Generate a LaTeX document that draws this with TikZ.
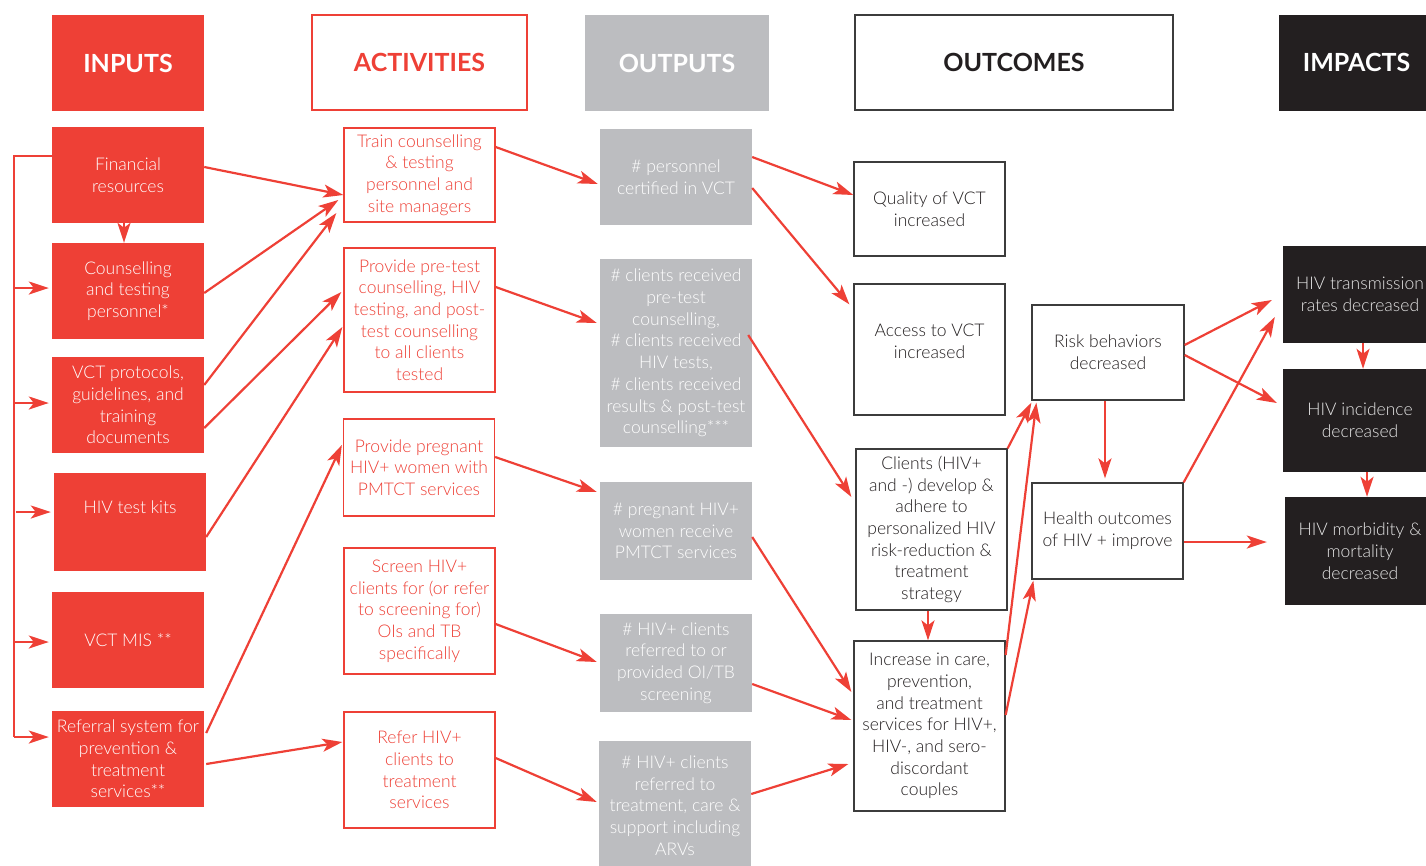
\documentclass[tikz,border=0pt]{standalone}
\usepackage{fontspec}
\IfFontExistsTF{Lato Light}{\setmainfont{Lato Light}}{\setmainfont{Lato}}
\newfontfamily\headfont{Lato}
\usetikzlibrary{arrows.meta}
\definecolor{lfred}{HTML}{EE4036}
\definecolor{lfgrey}{HTML}{BCBDC0}
\definecolor{lfblack}{HTML}{231F20}
\definecolor{lfdark}{HTML}{3C3C3C}
\begin{document}
\begin{tikzpicture}[x = 1pt, y = -1pt,
	every node/.style = {align = center, inner sep = 0pt, font = \fontsize{17.5}{21.7}\selectfont},
	head/.style = {font = \fontsize{25}{30}\selectfont\headfont\bfseries, minimum height = 96},
	inbox/.style = {fill = lfred, text = white, minimum width = 152, minimum height = 96},
	actbox/.style = {draw = lfred, line width = 1.3, fill = white, text = lfred, minimum width = 151},
	outbox/.style = {fill = lfgrey, text = white, minimum width = 152},
	ocbox/.style = {draw = lfdark, line width = 1.3, fill = white, text = lfblack, minimum width = 151},
	impbox/.style = {fill = lfblack, text = white!90!black, minimum width = 154},
	link/.style = {draw = lfred, line width = 2.2},
	arrow/.style = {link, -{Stealth[length = 20pt, width = 13pt, inset = 5pt]}}]
	\useasboundingbox (0,0) rectangle (1426,865);
	% headers
	\node[head, fill = lfred, text = white, minimum width = 152, text depth = -4pt] (hin) at (128,63) {INPUTS};
	\node[head, draw = lfred, line width = 1.3, text = lfred, minimum width = 215, minimum height = 95, text depth = -4pt] (hact) at (419.5,62.5) {ACTIVITIES};
	\node[head, fill = lfgrey, text = white, minimum width = 184, text depth = -4pt] (hout) at (677,63) {OUTPUTS};
	\node[head, draw = lfdark, line width = 1.3, text = lfblack, minimum width = 318, minimum height = 95, text depth = -4pt] (hoc) at (1014,62.5) {OUTCOMES};
	\node[head, fill = lfblack, text = white, minimum width = 155, text depth = 2pt] (himp) at (1356.5,63) {IMPACTS};
	% inputs
	\node[inbox] (in1) at (128,175) {Financial\\resources};
	\node[inbox] (in2) at (128,291) {Counselling\\and testing\\personnel*};
	\node[inbox] (in3) at (128,405) {VCT protocols,\\guidelines, and\\training\\documents};
	\node[inbox, minimum height = 98, text depth = 30pt] (in4) at (130,522) {HIV test kits};
	\node[inbox] (in5) at (128,640) {VCT MIS **};
	\node[inbox] (in6) at (128,759) {Referral system for\\prevention \&\\treatment\\services**};
	% activities
	\node[actbox, minimum height = 94] (ac1) at (419.5,175) {Train counselling\\\& testing\\personnel and\\site managers};
	\node[actbox, minimum height = 144] (ac2) at (419.5,320) {Provide pre-test\\counselling, HIV\\testing, and post-\\test counselling\\to all clients\\tested};
	\node[actbox, minimum height = 97] (ac3) at (419,467.5) {Provide pregnant\\HIV+ women with\\PMTCT services};
	\node[actbox, minimum height = 126] (ac4) at (419.5,611) {Screen HIV+\\clients for (or refer\\to screening for)\\OIs and TB\\specifically};
	\node[actbox, minimum height = 116] (ac5) at (419.5,770) {Refer HIV+\\clients to\\treatment\\services};
	% outputs
	\node[outbox, minimum height = 96] (op1) at (676,177) {\# personnel\\certified in VCT};
	\node[outbox, minimum height = 188] (op2) at (676,353) {\# clients received\\pre-test\\counselling,\\\# clients received\\HIV tests,\\\# clients received\\results \& post-test\\counselling***};
	\node[outbox, minimum height = 98] (op3) at (676,531) {\# pregnant HIV+\\women receive\\PMTCT services};
	\node[outbox, minimum height = 98] (op4) at (676,663) {\# HIV+ clients\\referred to or\\provided OI/TB\\screening};
	\node[outbox, minimum height = 129] (op5) at (675,805.5) {\# HIV+ clients\\referred to\\treatment, care \&\\support including\\ARVs};
	% outcomes
	\node[ocbox, minimum height = 94] (oc1) at (929.5,209) {Quality of VCT\\increased};
	\node[ocbox, minimum height = 131, text depth = 17pt] (oc2) at (929.5,349.5) {Access to VCT\\increased};
	\node[ocbox, minimum height = 161] (oc3) at (931.5,529.5) {Clients (HIV+\\and -) develop \&\\adhere to\\personalized HIV\\risk-reduction \&\\treatment\\strategy};
	\node[ocbox, minimum height = 170] (oc4) at (929.5,726) {Increase in care,\\prevention,\\and treatment\\services for HIV+,\\HIV-, and sero-\\discordant\\couples};
	\node[ocbox, minimum width = 152, minimum height = 95] (oc5) at (1108,352.5) {Risk behaviors\\decreased};
	\node[ocbox, minimum height = 96] (oc6) at (1107.5,531) {Health outcomes\\of HIV + improve};
	% impacts
	\node[impbox, minimum height = 97] (im1) at (1360,294.5) {HIV transmission\\rates decreased};
	\node[impbox, minimum height = 103] (im2) at (1360,420.5) {HIV incidence\\decreased};
	\node[impbox, minimum width = 150, minimum height = 108] (im3) at (1360,551) {HIV morbidity \&\\mortality\\decreased};
	% rail feeding the inputs
	\draw[link] ([yshift = 19]in1.west) -- ++(-38,0) -- ([xshift = -38, yshift = 22]in6.west);
	\foreach \n/\s in {in2/3, in3/2, in4/10, in5/-2, in6/22}
		\draw[arrow] ([yshift = \s]\n.west) ++(-38,0) -- ([xshift = -3, yshift = \s]\n.west);
	\draw[arrow] ([xshift = -4]in1.south) -- ([xshift = -4]in2.north);
	% inputs to activities
	\draw[arrow] ([yshift = 8]in1.east) -- ([yshift = -20]ac1.west);
	\draw[arrow] ([yshift = -2]in2.east) -- ([xshift = -5, yshift = -25]ac1.west);
	\draw[arrow] ([yshift = 20]in3.east) -- ([xshift = -7, yshift = -38]ac1.west);
	\draw[arrow] ([yshift = -23]in3.east) -- ([xshift = -2, yshift = 28]ac2.west);
	\draw[arrow] ([yshift = -15]in4.east) -- ([xshift = -1, yshift = -7]ac2.west);
	\draw[arrow] ([xshift = 2, yshift = 26]in6.east) -- ([xshift = -1, yshift = 22.5]ac3.west);
	\draw[arrow] ([xshift = 2, yshift = -5]in6.east) -- ([xshift = -1, yshift = 28]ac5.west);
	% activities to outputs
	\draw[arrow] ([yshift = 28]ac1.east) -- ([xshift = -2, yshift = -7]op1.west);
	\draw[arrow] ([yshift = 33]ac2.east) -- ([xshift = -3, yshift = 30]op2.west);
	\draw[arrow] ([yshift = 10.5]ac3.east) -- ([xshift = -3, yshift = 39]op3.west);
	\draw[arrow] ([yshift = -13]ac4.east) -- ([xshift = -3, yshift = 1]op4.west);
	\draw[arrow] ([yshift = 12]ac5.east) -- ([xshift = -2, yshift = 3.5]op5.west);
	% outputs to outcomes
	\draw[arrow] ([yshift = 20]op1.east) -- ([yshift = 14]oc1.west);
	\draw[arrow] ([yshift = -11]op1.east) -- ([xshift = -4, yshift = -21]oc2.north west);
	\draw[arrow] ([xshift = -4, yshift = 18]op2.east) -- ([xshift = -4, yshift = 32.5]oc3.west);
	\draw[arrow] ([yshift = -6]op3.east) -- ([xshift = -2, yshift = 34]oc4.west);
	\draw[arrow] ([yshift = -21]op4.east) -- ([xshift = -2, yshift = 6]oc4.west);
	\draw[arrow] ([yshift = 11.5]op5.east) -- ([xshift = -5, yshift = -38]oc4.west);
	% within outcomes
	\draw[arrow] ([xshift = -3.5]oc3.south) -- ([xshift = -1.5]oc4.north);
	\draw[arrow] (oc3.north east) -- ([yshift = -2]oc5.south west);
	\draw[arrow] ([yshift = 71]oc4.east) -- ([xshift = 5, yshift = -2]oc5.south west);
	\draw[arrow] ([yshift = 11]oc4.east) -- ([xshift = 2, yshift = -1]oc6.south west);
	\draw[arrow] ([xshift = -3]oc5.south) -- ([xshift = -2.5, yshift = 4]oc6.north);
	% outcomes to impacts
	\draw[arrow] ([yshift = 7.5]oc5.east) -- ([xshift = -11, yshift = -5.5]im1.west);
	\draw[arrow] ([yshift = -2.5]oc5.east) -- ([xshift = -6, yshift = 17.5]im2.west);
	\draw[arrow] (oc6.north east) -- ([xshift = -8, yshift = -22.5]im1.west);
	\draw[arrow] ([yshift = -11]oc6.east) -- ([xshift = -18, yshift = 9]im3.west);
	\draw[arrow] ([xshift = 3]im1.south) -- ([xshift = 3]im2.north);
	\draw[arrow] ([xshift = 7]im2.south) -- ([xshift = 7]im3.north);
\end{tikzpicture}
\end{document}
